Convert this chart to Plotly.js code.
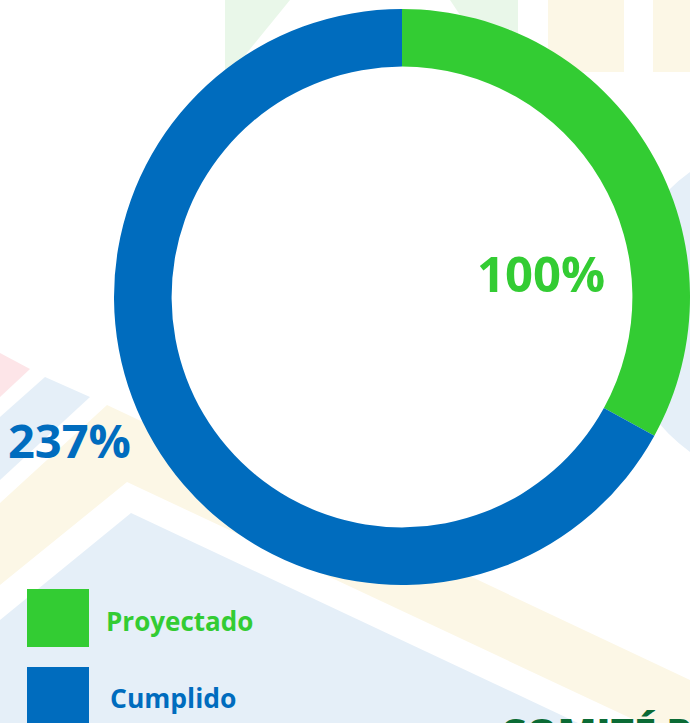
<!DOCTYPE html>
<html>
<head>
<meta charset="utf-8">
<script src="https://cdn.plot.ly/plotly-3.0.1.min.js"></script>
<style>html,body{margin:0;padding:0;background:#fff;}#chart{width:690px;height:723px;}</style>
</head>
<body>
<div id="chart"></div>
<script>
// ---- data ----
const categories = ['Proyectado', 'Cumplido'];
const percentLabels = ['100%', '237%'];
// share of the ring occupied by each slice (~119° / ~241°)
const sliceShares = [33, 67];
const sliceColors = ['#33CC33', '#006CBE'];
const footerText = 'COMITÉ PROVINCIAL';

const W = 690, H = 723;
const px = x => x / W;
const py = y => 1 - y / H;
function poly(pts) {
  return 'M ' + pts.map(p => px(p[0]).toFixed(4) + ',' + py(p[1]).toFixed(4)).join(' L ') + ' Z';
}
function bgShape(pts, color) {
  return {type: 'path', xref: 'paper', yref: 'paper', path: poly(pts),
          fillcolor: color, line: {width: 0}, layer: 'below'};
}
const lightGreen = '#E9F7E9', lightYellow = '#FCF7E6', lightBlue = '#E5EFF8', lightPink = '#FDE5E8';

const shapes = [
  bgShape([[225,0],[290,0],[225,80]], lightGreen),
  bgShape([[450,0],[518,0],[518,60],[490,60]], lightGreen),
  bgShape([[548,0],[624,0],[624,72],[548,72]], lightYellow),
  bgShape([[653,0],[690,0],[690,72],[653,72]], lightYellow),
  bgShape([[0,353],[30,369],[0,397]], lightPink),
  bgShape([[45,377],[90,397],[0,480],[0,417]], lightBlue),
  bgShape([[0,503],[107,405],[690,680],[690,746],[127,482],[0,585]], lightYellow),
  bgShape([[0,620],[131,513],[578,723],[0,723]], lightBlue),
  {type: 'circle', xref: 'paper', yref: 'paper', x0: px(618), x1: px(962), y0: py(140), y1: py(484),
   fillcolor: lightBlue, line: {width: 0}, layer: 'below'},
  // white centre of the ring
  {type: 'circle', xref: 'paper', yref: 'paper', x0: px(402 - 232), x1: px(402 + 232), y0: py(297 + 232), y1: py(297 - 232),
   fillcolor: '#FFFFFF', line: {width: 0}, layer: 'below'}
];

// legend squares
const legendTops = [589, 667];
categories.forEach((c, i) => {
  shapes.push({type: 'rect', xref: 'paper', yref: 'paper',
    x0: px(27), x1: px(89), y0: py(legendTops[i]), y1: py(legendTops[i] + 58),
    fillcolor: sliceColors[i], line: {width: 0}, layer: 'above'});
});

const fontFam = 'Open Sans, sans-serif';
const annotations = [
  {text: percentLabels[0], x: px(541), y: py(273), xref: 'paper', yref: 'paper', showarrow: false,
   xanchor: 'center', yanchor: 'middle', font: {family: fontFam, size: 49, color: sliceColors[0], weight: 700}},
  {text: percentLabels[1], x: px(69), y: py(440), xref: 'paper', yref: 'paper', showarrow: false,
   xanchor: 'center', yanchor: 'middle', font: {family: fontFam, size: 47, color: sliceColors[1], weight: 700}},
  {text: categories[0], x: px(104), y: py(621), xref: 'paper', yref: 'paper', showarrow: false,
   xanchor: 'left', yanchor: 'middle', font: {family: fontFam, size: 26, color: sliceColors[0], weight: 700}},
  {text: categories[1], x: px(108), y: py(698), xref: 'paper', yref: 'paper', showarrow: false,
   xanchor: 'left', yanchor: 'middle', font: {family: fontFam, size: 26.5, color: sliceColors[1], weight: 700}},
  {text: footerText, x: px(498), y: py(703), xref: 'paper', yref: 'paper', showarrow: false,
   xanchor: 'left', yanchor: 'top', font: {family: fontFam, size: 40, color: '#0B6B35', weight: 800}}
];

const trace = {
  type: 'pie',
  labels: categories,
  values: sliceShares,
  marker: {colors: sliceColors, line: {width: 0}},
  hole: 0.8,
  sort: false,
  direction: 'clockwise',
  rotation: 0,
  textinfo: 'none',
  hoverinfo: 'label',
  domain: {x: [114 / W, 1], y: [py(297) - 288 / H, py(297) + 288 / H]}
};

const layout = {
  width: W, height: H,
  margin: {l: 0, r: 0, t: 0, b: 0},
  paper_bgcolor: '#FFFFFF',
  showlegend: false,
  shapes: shapes,
  annotations: annotations
};

Plotly.newPlot('chart', [trace], layout, {displayModeBar: false, staticPlot: true});
</script>
</body>
</html>
